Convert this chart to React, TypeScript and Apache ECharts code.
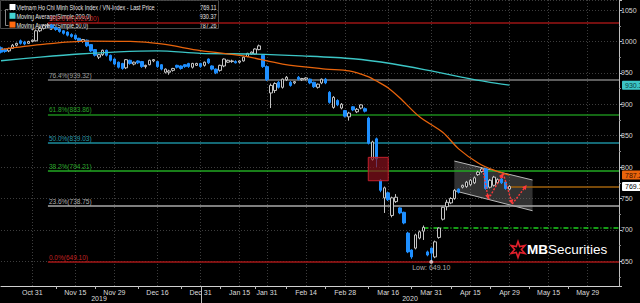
import React, { useEffect, useRef } from "react";
import * as echarts from "echarts";

const FONT = "Liberation Sans, Arial, sans-serif";

const HOLIDAYS = ["2020-01-01", "2020-01-23", "2020-01-24", "2020-01-27", "2020-01-28", "2020-01-29", "2020-04-02", "2020-04-30", "2020-05-01"];
const LABEL_DATES = ["2019-10-31", "2019-11-15", "2019-11-29", "2019-12-16", "2019-12-31", "2020-01-15", "2020-01-31", "2020-02-14", "2020-02-28", "2020-03-16", "2020-03-31", "2020-04-15", "2020-04-29", "2020-05-15", "2020-05-29"];
const MONTHS = ["Jan", "Feb", "Mar", "Apr", "May", "Jun", "Jul", "Aug", "Sep", "Oct", "Nov", "Dec"];

// [open, close, low, high] per trading day from 2019-10-21
const OHLC: number[][] = [
  [990, 983, 981, 992], [987, 984, 982, 989], [985, 989, 983, 990], [989, 994, 988, 996], [994, 997, 992, 998],
  [1001, 997, 995, 1003], [999, 996, 994, 1001], [997, 1000, 996, 1001], [1000, 1002, 999, 1003], [1001, 1017, 1000, 1019],
  [1017, 1021, 1015, 1023], [1021, 1025, 1019, 1027], [1025, 1026, 1022, 1029], [1026, 1022, 1020, 1028], [1022, 1019, 1017, 1024],
  [1020, 1016, 1014, 1021], [1017, 1013, 1011, 1018], [1015, 1010, 1008, 1016], [1011, 1008, 1006, 1013], [1010, 1004, 1002, 1011],
  [1005, 1000, 998, 1006], [1000, 1003, 998, 1004], [1002, 993, 991, 1003], [995, 985, 983, 996], [987, 978, 976, 988],
  [975, 979, 972, 980], [979, 986, 977, 987], [986, 978, 976, 987], [978, 970, 968, 979], [972, 964, 962, 973],
  [967, 959, 957, 968], [965, 957, 955, 966], [958, 971, 956, 972], [970, 965, 963, 971], [964, 967, 962, 968],
  [969, 966, 964, 970], [968, 960, 958, 969], [960, 962, 957, 963], [963, 970, 962, 971], [969, 971, 967, 972],
  [968, 960, 958, 969], [963, 956, 954, 964], [951, 956, 949, 957], [951, 953, 947, 955], [954, 957, 952, 958],
  [962, 959, 957, 963], [961, 957, 955, 962], [963, 960, 958, 964], [965, 960, 958, 966], [959, 965, 957, 966],
  [962, 965, 961, 966], [965, 960, 958, 966], [962, 967, 960, 968], [972, 966, 964, 973], [961, 956, 954, 962],
  [956, 950, 948, 957], [954, 962, 952, 963], [961, 972, 959, 973], [967, 970, 966, 971], [968, 969, 966, 971],
  [968, 966, 965, 970], [967, 969, 965, 970], [969, 975, 968, 976], [976, 981, 975, 982], [980, 983, 979, 984],
  [980, 988, 979, 989], [987, 993, 986, 995], [978, 960, 958, 980], [960, 939, 937, 962], [918, 930, 894, 933],
  [922, 933, 918, 935], [935, 927, 925, 937], [927, 940, 925, 941], [939, 943, 937, 945], [935, 930, 928, 937],
  [934, 936, 932, 937], [943, 940, 938, 945], [939, 941, 937, 942], [940, 942, 938, 943], [940, 934, 932, 941],
  [935, 928, 926, 936], [927, 932, 925, 933], [934, 940, 932, 941], [940, 934, 932, 942], [919, 903, 901, 921],
  [895, 911, 893, 913], [906, 899, 897, 908], [894, 900, 892, 902], [890, 881, 879, 891], [880, 886, 874, 888],
  [896, 891, 889, 897], [888, 892, 886, 894], [894, 899, 892, 900], [893, 889, 887, 895], [878, 838, 836, 880],
  [812, 840, 810, 842], [845, 813, 800, 847], [779, 763, 760, 781], [751, 767, 727, 769], [759, 748, 746, 761],
  [723, 751, 720, 753], [745, 752, 743, 757], [735, 727, 725, 736], [728, 711, 709, 729], [695, 665, 663, 697],
  [668, 657, 654, 669], [671, 692, 669, 694], [687, 697, 685, 699], [698, 704, 684, 707], [665, 660, 658, 667],
  [671, 663, 649.1, 672], [657, 681, 655, 683], [688, 703, 686, 704], [717, 736, 715, 737], [737, 744, 731, 748],
  [743, 750, 741, 752], [750, 763, 748, 765], [765, 760, 758, 766], [768, 771, 766, 772], [769, 776, 767, 778],
  [772, 779, 770, 781], [775, 783, 773, 785], [788, 792, 786, 794], [793, 797, 791, 800], [797, 766, 764, 799],
  [768, 779, 766, 781], [771, 784, 769, 786], [775, 780, 773, 782], [781, 775, 773, 783], [776, 766, 764, 778],
  [765, 769.11, 763, 771],
];

const MA200_IDX = [0, 10, 20, 30, 40, 51, 64, 77, 90, 100, 110, 118, 124, 130];
const MA200_VAL = [969.3, 975, 980, 983.5, 985, 981, 980, 977, 972.5, 964.5, 953, 943, 936, 930.37];
const MA50_IDX = [0, 10, 22, 33, 41, 51, 62, 72, 83, 89, 94, 96, 99, 102, 107, 113, 117, 122, 126, 130];
const MA50_VAL = [987.4, 995, 1000.5, 1000, 996, 985.5, 977, 964, 956, 953, 943.5, 937, 926, 910, 880, 855, 829, 806.5, 795, 787.26];

const FIB_PCT = ["100.0%", "76.4%", "61.8%", "50.0%", "38.2%", "23.6%", "0.0%"];
const FIB_VAL = [1029.0, 939.32, 883.86, 839.03, 794.21, 738.75, 649.1];
const FIB_LINE = ["#9b1414", "#7c7c7c", "#1b8a1b", "#1b8c9c", "#22a822", "#a8a8a8", "#a51616"];
const FIB_TEXT = ["#c02020", "#a0a0a0", "#2aa02a", "#2a9aaa", "#2aa82a", "#b0b0b0", "#c02020"];
const FIB_START = 12;

const SUPPORT_VAL = 704;
const SUPPORT_START = 108;
const LAST_PRICE = 769.11;
const MA200_LAST = 930.37;
const MA50_LAST = 787.26;
const LOW_IDX = 110;
const LOW_VAL = 649.1;

const CHANNEL_X = [115.9, 135.9, 135.9, 115.9];
const CHANNEL_Y = [809.6, 779.4, 730.5, 762.4];
const GAP_X = [93.9, 99.0];
const GAP_Y = [815.5, 778.3];
const ZIG_X = [123.2, 124.6, 128.4, 130.7, 134.4];
const ZIG_Y = [796.4, 748.7, 790.1, 741.2, 771.4];

const LEGEND_TITLES = ["Vietnam Ho Chi Minh Stock Index / VN-Index - Last Price", "Moving Average(Simple,200,0)", "Moving Average(Simple,50,0)"];
const LEGEND_VALUES = [LAST_PRICE, MA200_LAST, MA50_LAST];
const LEGEND_COLORS = ["#ffffff", "#44d4d4", "#ff6a10"];

function tradingDays(): string[] {
  const out: string[] = [];
  const d = new Date(Date.UTC(2019, 9, 21));
  const end = Date.UTC(2020, 5, 10);
  while (d.getTime() <= end) {
    const wd = d.getUTCDay();
    const iso = d.toISOString().slice(0, 10);
    if (wd !== 0 && wd !== 6 && !HOLIDAYS.includes(iso)) out.push(iso);
    d.setUTCDate(d.getUTCDate() + 1);
  }
  return out;
}

export default function App() {
  const ref = useRef<HTMLDivElement>(null);
  useEffect(() => {
    document.body.style.margin = "0";
    document.body.style.background = "#000";
    const chart = echarts.init(ref.current!, null, { renderer: "svg" });
    const days = tradingDays();
    const cats = days.map((s) => MONTHS[parseInt(s.slice(5, 7), 10) - 1] + " " + parseInt(s.slice(8, 10), 10));
    const labelIdx = LABEL_DATES.map((s) => days.indexOf(s));
    const tickIdx: number[] = [];
    for (let i = 0; i < labelIdx.length - 1; i++) tickIdx.push(Math.round((labelIdx[i] + labelIdx[i + 1]) / 2));
    const lastIdx = days.length - 1;
    const lastCandle = OHLC.length - 1;
    const legendScale = 0.73;

    const pxFn = (api: any) => (x: number, y: number) => {
      const i = Math.floor(x);
      const p = api.coord([i, y]);
      return [p[0] + (x - i) * api.size([1, 0])[0], p[1]];
    };

    const fibLines = FIB_VAL.map((v, k) => [
      {
        coord: [FIB_START, v],
        lineStyle: { color: FIB_LINE[k], width: 1.5, type: "solid" },
        label: {
          show: true, position: "insideStartTop", distance: 1,
          formatter: `${FIB_PCT[k]}(${v.toFixed(2)})`, color: FIB_TEXT[k], fontSize: 6.5, fontFamily: FONT,
        },
      },
      { coord: [lastIdx, v] },
    ]);

    const tag = (v: number, bg: string, fg: string, text: string, lineColor: string, from: number) => [
      {
        coord: [from, v],
        lineStyle: { color: lineColor, width: 1.5, type: "solid" },
        label: {
          show: true, position: "end", distance: 3, formatter: text, color: fg, backgroundColor: bg,
          fontSize: 7, fontFamily: FONT, padding: [1, 2, 1, 3], borderRadius: 1,
        },
      },
      { coord: [lastIdx, v] },
    ];

    const rowY = [6.8, 15.6, 24.4];
    const legendChildren: any[] = [
      { type: "rect", shape: { x: 0, y: 0, width: 218, height: 28 }, style: { fill: "rgba(0,0,0,0.7)", stroke: "#4a4a4a", lineWidth: 1 } },
      { type: "polyline", shape: { points: [[8, 9], [5, 9], [5, 25], [8, 25]] }, style: { stroke: "#888", lineWidth: 1, fill: "none" } },
    ];
    LEGEND_TITLES.forEach((t, k) => {
      legendChildren.push({ type: "rect", shape: { x: 9, y: rowY[k] - 3.3, width: 6, height: 6 }, style: { fill: LEGEND_COLORS[k] } });
      legendChildren.push({
        type: "group", x: 16, y: rowY[k], scaleX: legendScale, children: [
          { type: "text", x: 0, y: 0, style: { text: t, fill: "#e6e6e6", fontSize: 7.5, fontFamily: FONT, textVerticalAlign: "middle" } },
        ],
      });
      legendChildren.push({
        type: "group", x: 216, y: rowY[k], scaleX: legendScale, children: [
          { type: "text", x: 0, y: 0, style: { text: LEGEND_VALUES[k].toFixed(2), fill: "#e6e6e6", fontSize: 7.5, fontFamily: FONT, textAlign: "right", textVerticalAlign: "middle" } },
        ],
      });
    });

    const option: any = {
      animation: false,
      backgroundColor: "#000",
      grid: { left: 1, right: 21, top: 0, bottom: 17, containLabel: false },
      xAxis: {
        type: "category", data: cats, boundaryGap: false,
        axisLine: { lineStyle: { color: "#d0d0d0", width: 1 } },
        axisTick: { show: true, length: 3, interval: (i: number) => tickIdx.includes(i), lineStyle: { color: "#bbb" } },
        axisLabel: { interval: (i: number) => labelIdx.includes(i), color: "#dcdcdc", fontSize: 7, margin: 3, fontFamily: FONT },
        splitLine: { show: true, interval: (i: number) => labelIdx.includes(i), lineStyle: { color: "#3d3d3d", type: [1, 2] } },
      },
      yAxis: {
        type: "value", position: "right", min: 610.7, max: 1066, splitNumber: 9,
        axisLine: { show: true, lineStyle: { color: "#c0c0c0" } },
        axisTick: { show: true, length: 3, lineStyle: { color: "#c0c0c0" } },
        minorTick: { show: true, splitNumber: 2, length: 2, lineStyle: { color: "#8a8a8a" } },
        axisLabel: {
          color: "#d8d8d8", fontSize: 7, margin: 2, showMinLabel: false, showMaxLabel: false, fontFamily: FONT,
          formatter: (v: number) => String(Math.round(v)),
        },
        splitLine: { show: true, lineStyle: { color: "#3d3d3d", type: [1, 2] } },
      },
      series: [
        {
          type: "custom", z: 1, silent: true, data: [[CHANNEL_X[0], CHANNEL_Y[0]]],
          renderItem: (_p: any, api: any) => {
            const px = pxFn(api);
            const pts = CHANNEL_X.map((x, i) => px(x, CHANNEL_Y[i]));
            return {
              type: "group", children: [
                { type: "polygon", shape: { points: pts }, style: { fill: "rgba(120,120,120,0.42)", stroke: "none" } },
                { type: "line", shape: { x1: pts[0][0], y1: pts[0][1], x2: pts[1][0], y2: pts[1][1] }, style: { stroke: "#b8b8b8", lineWidth: 1 } },
                { type: "line", shape: { x1: pts[3][0], y1: pts[3][1], x2: pts[2][0], y2: pts[2][1] }, style: { stroke: "#b8b8b8", lineWidth: 1 } },
              ],
            };
          },
        },
        {
          type: "candlestick", name: "VN-Index", z: 3, barWidth: 3,
          data: OHLC,
          itemStyle: { color: "#000", color0: "#1e8fff", borderColor: "#c4c4c4", borderColor0: "#1e8fff", borderWidth: 1 },
          markLine: {
            silent: true, symbol: ["none", "none"], animation: false, z: 2,
            data: [
              ...fibLines,
              [
                { coord: [SUPPORT_START, SUPPORT_VAL], lineStyle: { color: "#1ed01e", width: 1.5, type: [5, 2, 1, 2] }, label: { show: false } },
                { coord: [lastIdx, SUPPORT_VAL] },
              ],
              tag(LAST_PRICE, "#ffffff", "#000", LAST_PRICE.toFixed(2), "#a0620c", lastCandle),
            ],
          },
        },
        {
          type: "line", name: "MA200", z: 4, smooth: 0.3, showSymbol: false, symbol: "none",
          data: MA200_IDX.map((x, i) => [x, MA200_VAL[i]]),
          lineStyle: { color: "#3cc6c6", width: 1.3 },
          markLine: {
            silent: true, symbol: ["none", "none"],
            data: [tag(MA200_LAST, "#3cc6c6", "#0b3f3f", MA200_LAST.toFixed(2), "rgba(0,0,0,0)", lastIdx - 1)],
          },
        },
        {
          type: "line", name: "MA50", z: 4, smooth: 0.3, showSymbol: false, symbol: "none",
          data: MA50_IDX.map((x, i) => [x, MA50_VAL[i]]),
          lineStyle: { color: "#e8640c", width: 1.3 },
          markLine: {
            silent: true, symbol: ["none", "none"],
            data: [tag(MA50_LAST, "#e8640c", "#3a1000", MA50_LAST.toFixed(2), "rgba(0,0,0,0)", lastIdx - 1)],
          },
        },
        {
          type: "custom", z: 5, silent: true, data: [[GAP_X[0], GAP_Y[0]]],
          renderItem: (_p: any, api: any) => {
            const px = pxFn(api);
            const a = px(GAP_X[0], GAP_Y[0]);
            const b = px(GAP_X[1], GAP_Y[1]);
            return {
              type: "rect", shape: { x: a[0], y: a[1], width: b[0] - a[0], height: b[1] - a[1] },
              style: { fill: "rgba(140,18,30,0.68)", stroke: "#c4202c", lineWidth: 1 },
            };
          },
        },
        {
          type: "custom", z: 6, silent: true, data: ZIG_X.map((x, i) => [x, ZIG_Y[i]]),
          renderItem: (p: any, api: any) => {
            const i = p.dataIndex;
            if (i === 0) return { type: "group", children: [] };
            const px = pxFn(api);
            const a = px(ZIG_X[i - 1], ZIG_Y[i - 1]);
            const b = px(ZIG_X[i], ZIG_Y[i]);
            const dx = b[0] - a[0], dy = b[1] - a[1];
            const len = Math.sqrt(dx * dx + dy * dy) || 1;
            const ux = dx / len, uy = dy / len;
            const s = 4.5, w = 2.4;
            const head = [
              [b[0], b[1]],
              [b[0] - ux * s - uy * w, b[1] - uy * s + ux * w],
              [b[0] - ux * s + uy * w, b[1] - uy * s - ux * w],
            ];
            return {
              type: "group", children: [
                { type: "line", shape: { x1: a[0], y1: a[1], x2: b[0] - ux * 2, y2: b[1] - uy * 2 }, style: { stroke: "#ff3a3a", lineWidth: 1.4, lineDash: [2, 1.5] } },
                { type: "polygon", shape: { points: head }, style: { fill: "#ff3a3a" } },
              ],
            };
          },
        },
        {
          type: "scatter", z: 7, symbolSize: 4, silent: true,
          data: [[LOW_IDX, LOW_VAL]],
          itemStyle: { color: "#f4d6d6" },
          label: { show: true, position: "bottom", distance: 0, formatter: "Low: " + LOW_VAL.toFixed(2), color: "#dcdcdc", fontSize: 7, fontFamily: FONT },
        },
      ],
      graphic: [
        { type: "group", left: 0, top: 0, z: 100, children: legendChildren },
        { type: "text", x: 99, y: 298, z: 100, style: { text: "2019", fill: "#dcdcdc", fontSize: 7, fontFamily: FONT, textAlign: "center", textVerticalAlign: "middle" } },
        { type: "text", x: 410, y: 298, z: 100, style: { text: "2020", fill: "#dcdcdc", fontSize: 7, fontFamily: FONT, textAlign: "center", textVerticalAlign: "middle" } },
        { type: "line", z: 100, shape: { x1: 201.5, y1: 286, x2: 201.5, y2: 303 }, style: { stroke: "#bbb", lineWidth: 1 } },
        {
          type: "polygon", z: 100,
          shape: {
            points: [0, 1, 2, 3, 4, 5, 6, 7, 8, 9, 10, 11].map((k) => {
              const r = k % 2 === 0 ? 8 : 3.4;
              const a = -Math.PI / 2 + (k * Math.PI) / 6;
              return [518 + r * Math.cos(a), 249.5 + r * Math.sin(a)];
            }),
          },
          style: { fill: "none", stroke: "#e0202c", lineWidth: 1.6 },
        },
        {
          type: "text", x: 527, y: 249, z: 100,
          style: {
            text: "{a|MB}{b|Securities}", textVerticalAlign: "middle",
            rich: {
              a: { fill: "#ffffff", fontSize: 13.5, fontWeight: "bold", fontFamily: FONT },
              b: { fill: "#ffffff", fontSize: 13.5, fontFamily: FONT },
            },
          },
        },
      ],
    };
    chart.setOption(option);
    return () => chart.dispose();
  }, []);
  return <div ref={ref} style={{ width: 640, height: 303, background: "#000" }} />;
}
